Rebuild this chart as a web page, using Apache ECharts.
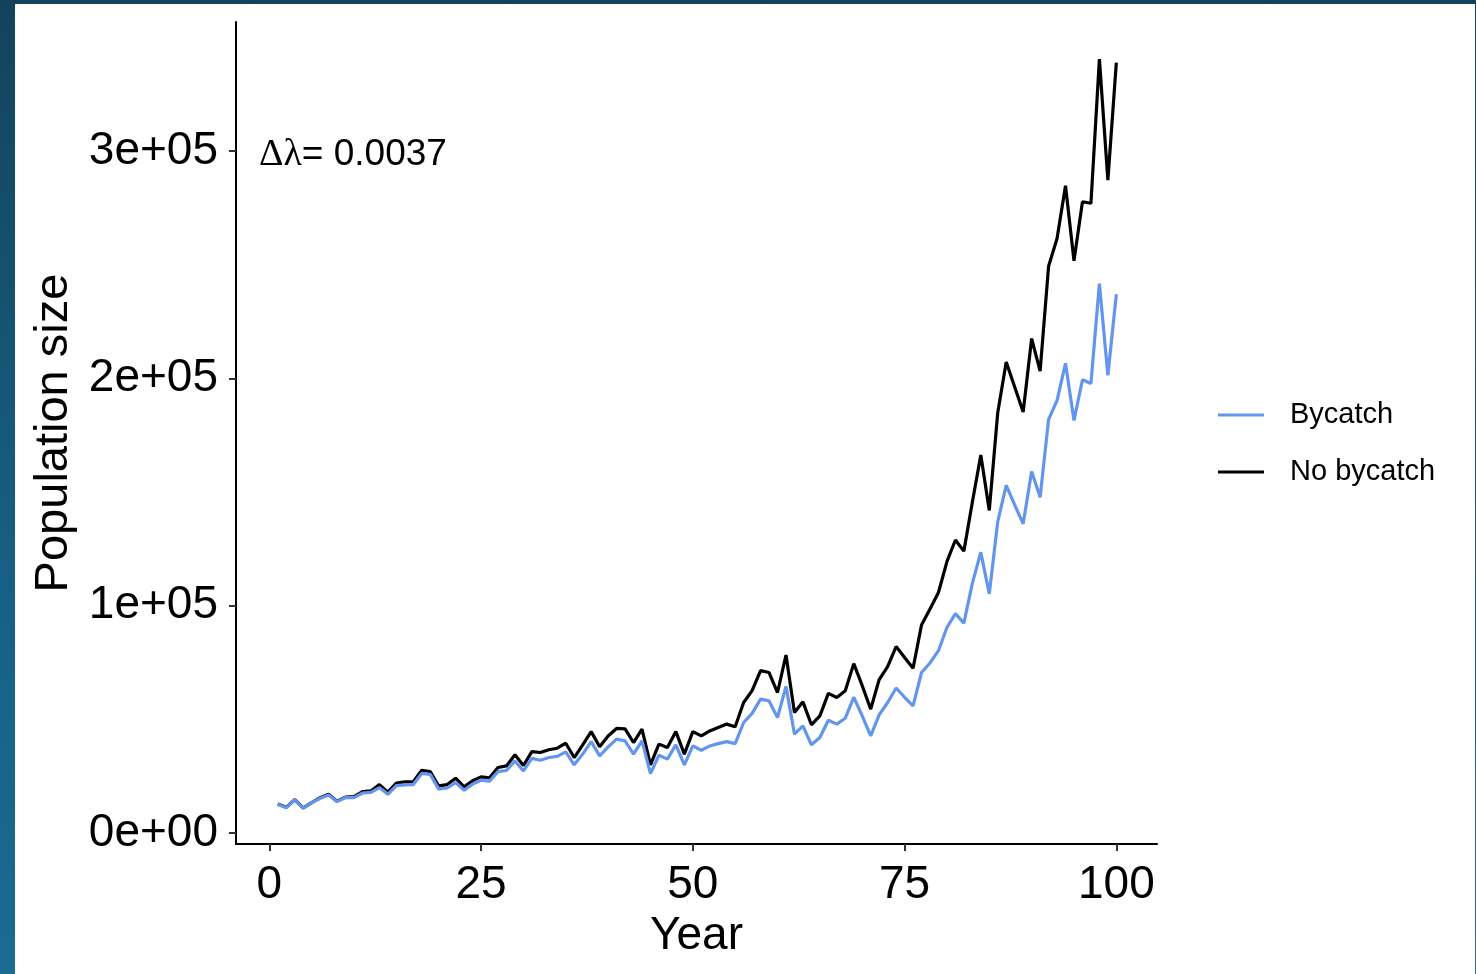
<!DOCTYPE html>
<html>
<head>
<meta charset="utf-8">
<script src="https://cdn.jsdelivr.net/npm/echarts@6/dist/echarts.min.js"></script>
<style>
  html, body { margin:0; padding:0; width:1476px; height:974px; overflow:hidden;
    background: linear-gradient(180deg, #13435a 0%, #176085 60%, #1b6b92 100%); }
  #panel { position:absolute; left:15px; top:4px; width:1460px; height:970px; background:#ffffff; }
  #chart { position:absolute; left:0; top:0; width:1476px; height:974px; }
</style>
</head>
<body>
<div id="panel"></div>
<div id="chart"></div>
<script>
// ---- data ----
const years = Array.from({length: 100}, (_, i) => i + 1);
const noBycatch = [
  12800, 11300, 14700, 11000, 13400, 15500, 17000, 14000, 15800, 16000,
  18200, 18500, 21300, 18000, 22000, 22500, 22600, 27600, 27000, 20700,
  21300, 24100, 20300, 23000, 24700, 24300, 28800, 29500, 34400, 29700,
  35800, 35400, 36600, 37300, 39500, 33200, 38800, 44600, 37900, 42700,
  46000, 45800, 39800, 45700, 30000, 39100, 37600, 44600, 34700, 44600,
  42700, 44900, 46400, 47900, 46700, 57400, 62600, 71400, 70600, 61800,
  78300, 53000, 57700, 47600, 51500, 61400, 59600, 62600, 74500, 64800,
  54500, 67500, 73200, 82000, 77200, 72500, 91500, 98500, 105800, 119400,
  128900, 124000, 145500, 166300, 141900, 185000, 207200, 196200, 185200, 217500,
  203200, 249300, 261500, 284700, 251700, 277700, 277000, 340400, 287200, 338900
];
const bycatch = [
  12600, 11100, 14500, 10900, 13300, 15300, 16700, 13800, 15600, 15600,
  17600, 17900, 20000, 17000, 20800, 21200, 21300, 26200, 25800, 19300,
  19800, 22200, 18800, 21500, 23200, 22800, 27000, 27500, 31700, 27300,
  32800, 32000, 33200, 33700, 35700, 30000, 34700, 40200, 33900, 37900,
  41300, 40500, 34700, 40500, 26100, 34200, 32500, 38800, 30000, 38300,
  36400, 38300, 39300, 40200, 39300, 48600, 52600, 58900, 58100, 50800,
  64500, 43500, 47100, 38800, 42000, 49600, 47900, 50500, 59700, 51500,
  42700, 52000, 57400, 63800, 59700, 55900, 70600, 74800, 80200, 90400,
  96500, 92300, 109800, 123500, 105200, 137000, 152900, 144300, 136000, 159000,
  147700, 181800, 190300, 206600, 181500, 199400, 197700, 241700, 201300, 237000
];
const seriesNames = ['Bycatch', 'No bycatch'];
const xTicks = [0, 25, 50, 75, 100];
const yTicks = [0, 100000, 200000, 300000];
const yTickLabels = ['0e+00', '1e+05', '2e+05', '3e+05'];

// ---- chart ----
const chart = echarts.init(document.getElementById('chart'), null, {renderer: 'canvas'});
const font = 'Liberation Sans, Arial, sans-serif';
const axisText = { color: '#000', fontFamily: font, fontSize: 46 };

chart.setOption({
  backgroundColor: 'transparent',
  animation: false,
  grid: { left: 236, right: 319, top: 22, bottom: 130, containLabel: false },
  legend: {
    data: seriesNames,
    orient: 'vertical',
    left: 1218, top: 400, padding: 0,
    icon: 'rect',
    itemWidth: 46, itemHeight: 3, itemGap: 27,
    textStyle: { color: '#000', fontFamily: font, fontSize: 29, lineHeight: 30, padding: [0, 0, 0, 21] }
  },
  xAxis: {
    type: 'value', min: -3.93, max: 104.8,
    name: 'Year', nameLocation: 'middle', nameGap: 66,
    nameTextStyle: { color: '#000', fontFamily: font, fontSize: 46 },
    axisLine: { onZero: false, lineStyle: { color: '#000', width: 2 } },
    axisTick: { customValues: xTicks, length: 7, lineStyle: { color: '#333', width: 2 } },
    axisLabel: { customValues: xTicks, margin: 18, ...axisText },
    splitLine: { show: false }
  },
  yAxis: {
    type: 'value', min: -4839, max: 356750,
    name: 'Population size', nameLocation: 'middle', nameGap: 158,
    nameTextStyle: { color: '#000', fontFamily: font, fontSize: 47 },
    axisLine: { show: true, onZero: false, lineStyle: { color: '#000', width: 2 } },
    axisTick: { show: true, customValues: yTicks, length: 7, lineStyle: { color: '#333', width: 2 } },
    axisLabel: {
      customValues: yTicks, margin: 18, ...axisText,
      formatter: v => yTickLabels[yTicks.indexOf(v)]
    },
    splitLine: { show: false }
  },
  graphic: [{
    type: 'text', left: 259, top: 136,
    style: {
      text: '{g|Δλ}{t|= 0.0037}',
      rich: {
        g: { fontFamily: 'Liberation Serif, DejaVu Serif, serif', fontSize: 38, fill: '#000' },
        t: { fontFamily: font, fontSize: 37, fill: '#000' }
      }
    }
  }],
  series: [
    {
      name: 'No bycatch', type: 'line', symbol: 'none', z: 2,
      data: years.map((y, i) => [y, noBycatch[i]]),
      lineStyle: { color: '#000000', width: 3.2 }, itemStyle: { color: '#000000' }
    },
    {
      name: 'Bycatch', type: 'line', symbol: 'none', z: 3,
      data: years.map((y, i) => [y, bycatch[i]]),
      lineStyle: { color: '#6495ED', width: 3.2 }, itemStyle: { color: '#6495ED' }
    }
  ]
});
</script>
</body>
</html>
